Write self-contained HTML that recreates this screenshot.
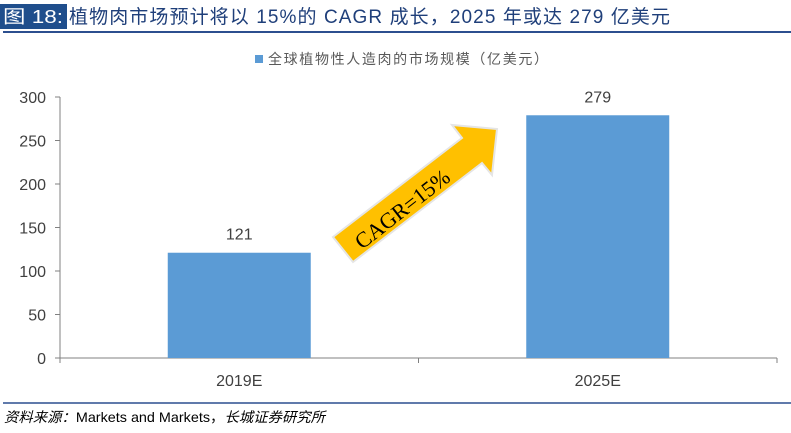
<!DOCTYPE html>
<html><head><meta charset="utf-8"><style>
body{margin:0;width:791px;height:428px;background:#fff;overflow:hidden;font-family:"Liberation Sans","Noto Sans CJK SC",sans-serif;}
</style></head><body>
<svg width="791" height="428" xmlns="http://www.w3.org/2000/svg" font-family="Liberation Sans, Noto Sans CJK SC, sans-serif">
<rect x="0" y="4" width="67" height="25" fill="#1f4e8c"/>
<text x="3" y="23" font-size="18" fill="#fff" textLength="60" lengthAdjust="spacingAndGlyphs">图 18:</text>
<text x="69" y="23" font-size="19" fill="#1f3f7a" textLength="601" lengthAdjust="spacing">植物肉市场预计将以 15%的 CAGR 成长，2025 年或达 279 亿美元</text>
<line x1="3" y1="32" x2="791" y2="32" stroke="#2c4f8f" stroke-width="2"/>
<rect x="255" y="55" width="8" height="8" fill="#5b9bd5"/>
<text x="268" y="64" font-size="14" fill="#595959" textLength="280" lengthAdjust="spacing">全球植物性人造肉的市场规模（亿美元）</text>
<g id="axes"></g>
<g id="bars"></g>
<polygon points="333,237 462,138 452,125 497,129 492,175 482,163 353,262" fill="#ffc000" stroke="#e5e5e5" stroke-width="2"/>
<text transform="translate(362,250) rotate(-38)" font-family="Liberation Serif, serif" font-size="22" fill="#000">CAGR=15%</text>
<line x1="3" y1="403" x2="791" y2="403" stroke="#2c4f8f" stroke-width="1.5"/>
<text x="4" y="422" font-size="14" fill="#000" textLength="321" lengthAdjust="spacingAndGlyphs"><tspan font-style="italic">资料来源：</tspan>Markets and Markets，<tspan font-style="italic">长城证券研究所</tspan></text>
</svg>
<script>
const categories=["2019E","2025E"];
const values=[121,279];
const ticks=[0,50,100,150,200,250,300];
const ns="http://www.w3.org/2000/svg";
const x0=60,x1=777,y0=358,yTop=97,maxV=300;
const y=v=>y0-(y0-yTop)*v/maxV;
const bw=(x1-x0)/categories.length;
const cx=i=>x0+bw*(i+0.5);
function mk(t,a,p){const e=document.createElementNS(ns,t);for(const k in a)e.setAttribute(k,a[k]);p.appendChild(e);return e;}
const ax=document.getElementById('axes'),bg=document.getElementById('bars');
let l=mk('line',{x1:x0,y1:yTop,x2:x0,y2:y0,stroke:'#808080'},ax);


l=mk('line',{x1:x0,y1:y0,x2:x1,y2:y0,stroke:'#808080'},ax);


ticks.forEach(t=>{
 const tk=mk('line',{x1:x0-5,y1:y(t),x2:x0,y2:y(t),stroke:'#808080'},ax);
 
 
 const tx=mk('text',{x:x0-14,y:y(t)+6,'text-anchor':'end','font-size':'16',fill:'#404040'},ax);
 tx.textContent=t;
 
 
});
for(let i=0;i<=categories.length;i++){
 const tk=mk('line',{x1:x0+bw*i,y1:y0,x2:x0+bw*i,y2:y0+5,stroke:'#808080'},ax);
 
 
}
categories.forEach((c,i)=>{
 const w=143;
 const r=mk('rect',{x:cx(i)-w/2,y:y(values[i]),width:w,height:y0-y(values[i]),fill:'#5b9bd5'},bg);
 
 
 const v=mk('text',{x:cx(i),y:y(values[i])-13,'text-anchor':'middle','font-size':'16',fill:'#404040'},bg);
 v.textContent=values[i];
 
 
 const t=mk('text',{x:cx(i),y:y0+28,'text-anchor':'middle','font-size':'16',fill:'#404040'},bg);
 t.textContent=c;
 
 
});
</script>
</body></html>
